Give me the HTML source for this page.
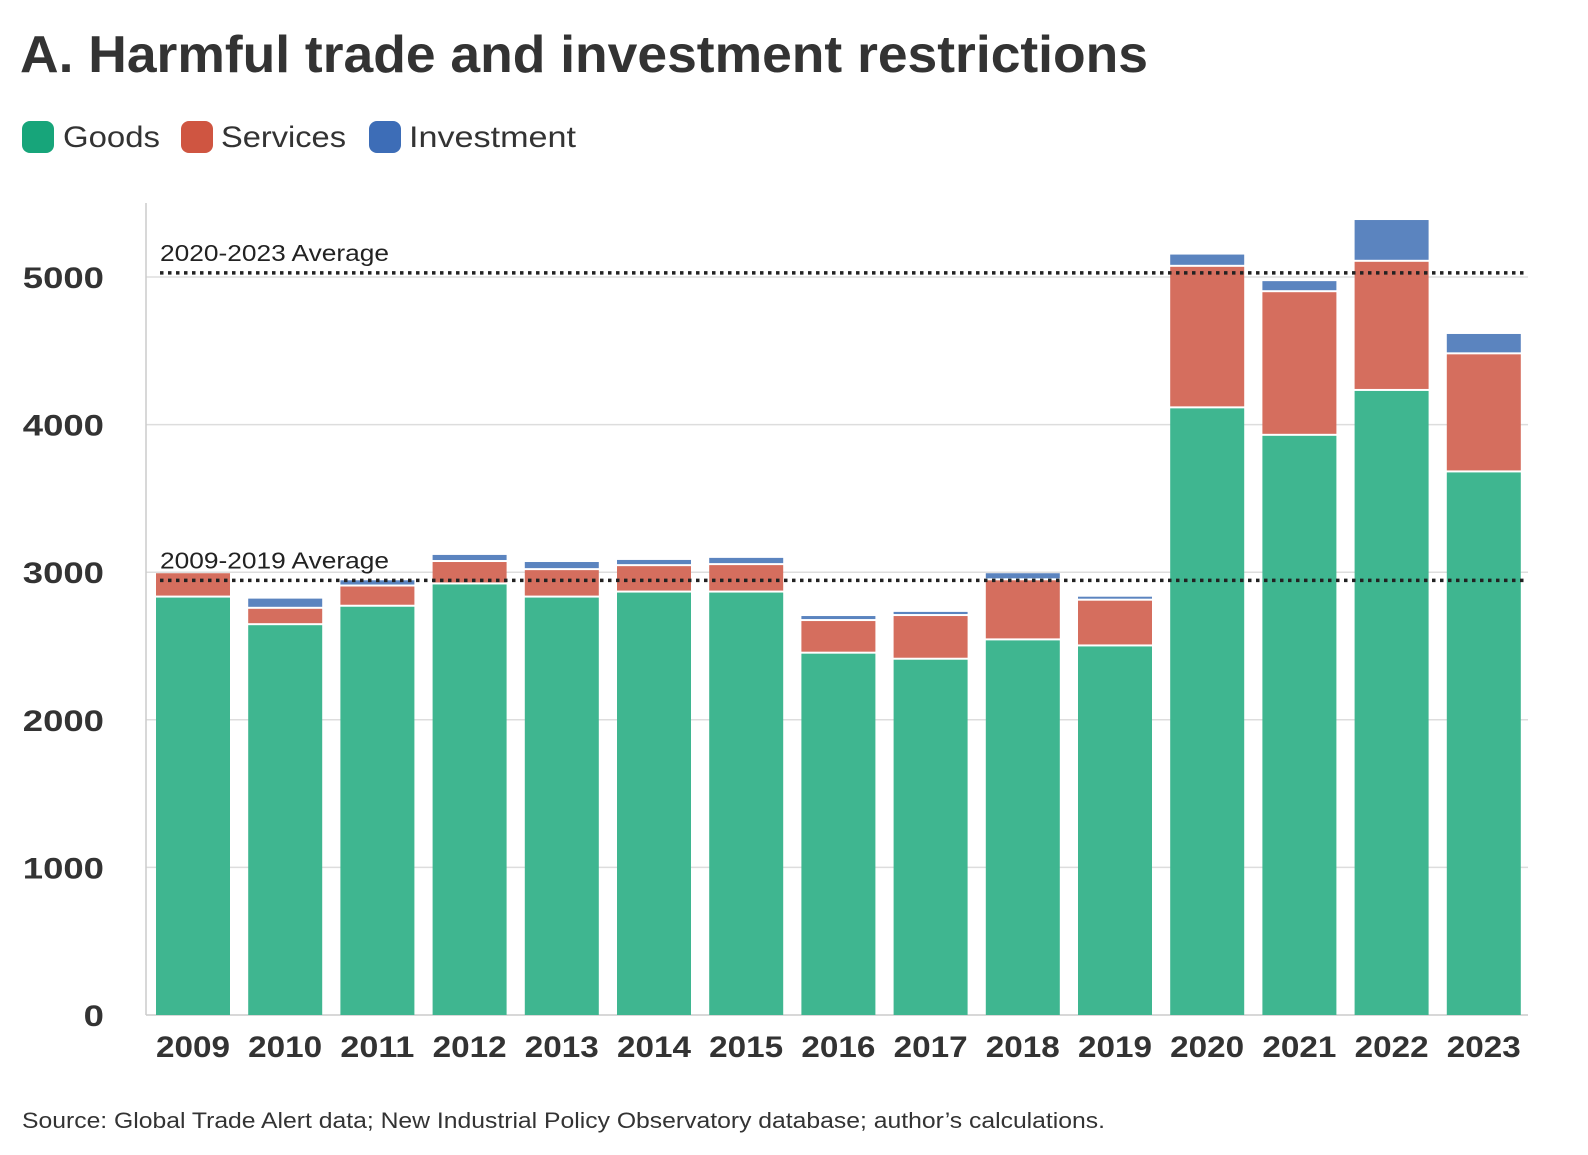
<!DOCTYPE html>
<html><head><meta charset="utf-8"><style>
body{margin:0;background:#fff;width:1588px;height:1150px;overflow:hidden;font-family:"Liberation Sans",sans-serif;color:#333}
</style></head><body>
<svg width="1588" height="1150" font-family="Liberation Sans, sans-serif">
<text x="20" y="72" font-size="52" font-weight="bold" fill="#333" textLength="1128" lengthAdjust="spacingAndGlyphs">A. Harmful trade and investment restrictions</text>
<g>
<rect x="22" y="121" width="32" height="32" rx="8" fill="#17a57a"/>
<text x="63" y="147" font-size="30" fill="#333" textLength="97" lengthAdjust="spacingAndGlyphs">Goods</text>
<rect x="181" y="121" width="32" height="32" rx="8" fill="#cf5541"/>
<text x="221" y="147" font-size="30" fill="#333" textLength="125" lengthAdjust="spacingAndGlyphs">Services</text>
<rect x="369" y="121" width="32" height="32" rx="8" fill="#3d6db7"/>
<text x="409" y="147" font-size="30" fill="#333" textLength="167" lengthAdjust="spacingAndGlyphs">Investment</text>
</g>
<g id="plot"></g>
<text x="22" y="1128" font-size="22" fill="#333" textLength="1083" lengthAdjust="spacingAndGlyphs">Source: Global Trade Alert data; New Industrial Policy Observatory database; author’s calculations.</text>
</svg>
<script>
const years=["2009","2010","2011","2012","2013","2014","2015","2016","2017","2018","2019","2020","2021","2022","2023"];
const goods=[2828,2641,2766,2917,2828,2862,2862,2448,2407,2538,2497,4110,3924,4228,3676];
const services=[165,111,137,152,186,179,186,221,296,407,310,959,973,875,800];
const investment=[10,69,42,48,55,42,49,34,28,48,27,83,75,283,138];
const yTicks=[0,1000,2000,3000,4000,5000];
const avgValues=[2945,5028];
const avgLabels=["2009-2019 Average","2020-2023 Average"];
const NS="http://www.w3.org/2000/svg";
const g=document.getElementById('plot');
const x0=146,xR=1528,y0=1015,pxPer=0.1476,step=92.2,bw=74,firstLeft=156;
const Y=v=>y0-v*pxPer;
const X=i=>firstLeft+i*step;
function mk(t,a){const e=document.createElementNS(NS,t);for(const k in a)e.setAttribute(k,a[k]);g.appendChild(e);return e;}
yTicks.forEach(v=>{
  if(v>0){const l=mk('line',{x1:x0,x2:xR,y1:Y(v),y2:Y(v),stroke:'#ddd','stroke-width':1.5});
  
  }
  const s=String(v);
  const t=mk('text',{x:104,y:Y(v)+11,'text-anchor':'end','font-size':30,'font-weight':'bold',fill:'#333',textLength:s.length*20.3,lengthAdjust:'spacingAndGlyphs'});
  t.textContent=s;
  
  
});
const ax=mk('line',{x1:x0,x2:x0,y1:Y(0),y2:203,stroke:'#ccc','stroke-width':1.5});


const bx=mk('line',{x1:x0,x2:xR,y1:Y(0),y2:Y(0),stroke:'#ccc','stroke-width':1.5});


const cols=['#3fb690','#d56e5e','#5b84bf'];
years.forEach((yr,i)=>{
  const vals=[goods[i],services[i],investment[i]];
  const names=['goods','services','investment'];
  let base=0;
  vals.forEach((v,k)=>{
    const top=base+v;
    const h=Math.max(0,Y(base)-Y(top)-(k>0?2:0));
    const r=mk('rect',{x:X(i),y:Y(top),width:bw,height:h,fill:cols[k]});
    
    
    base=top;
  });
  const t=mk('text',{x:X(i)+bw/2,y:1057,'text-anchor':'middle','font-size':30,'font-weight':'bold',fill:'#333',textLength:74,lengthAdjust:'spacingAndGlyphs'});
  t.textContent=yr;
  
  
});
avgValues.forEach((v,i)=>{
  const l=mk('line',{x1:x0+14,x2:xR,y1:Y(v),y2:Y(v),stroke:'#222','stroke-width':3.5,'stroke-dasharray':'3.5 4.5'});
  
  
  const t=mk('text',{x:160,y:Y(v)-12,'font-size':23,fill:'#222',textLength:229,lengthAdjust:'spacingAndGlyphs'});
  t.textContent=avgLabels[i];
  
  
});
</script>
</body></html>
